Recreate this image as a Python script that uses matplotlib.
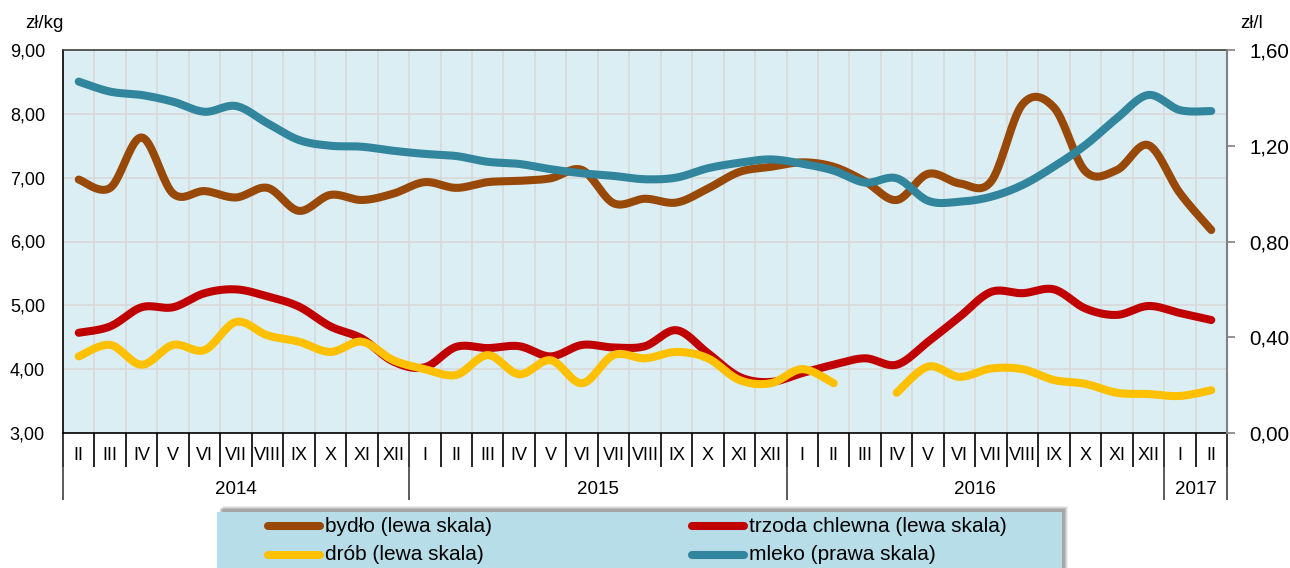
import numpy as np
import matplotlib.pyplot as plt
from matplotlib.patches import Rectangle
from matplotlib.lines import Line2D

plt.rcParams['font.family'] = ['Liberation Sans', 'DejaVu Sans']

# months II 2014 .. II 2017
months = ['II', 'III', 'IV', 'V', 'VI', 'VII', 'VIII', 'IX', 'X', 'XI', 'XII',
          'I', 'II', 'III', 'IV', 'V', 'VI', 'VII', 'VIII', 'IX', 'X', 'XI', 'XII',
          'I', 'II', 'III', 'IV', 'V', 'VI', 'VII', 'VIII', 'IX', 'X', 'XI', 'XII',
          'I', 'II']
years = ['2014', '2015', '2016', '2017']
year_bounds = [0, 11, 23, 35, 37]

bydlo = [6.97, 6.84, 7.63, 6.75, 6.79, 6.69, 6.84, 6.48, 6.73, 6.65, 6.75,
         6.93, 6.84, 6.93, 6.95, 6.99, 7.12, 6.60, 6.67, 6.61, 6.83, 7.09, 7.17,
         7.24, 7.17, 6.94, 6.65, 7.06, 6.91, 6.94, 8.15, 8.10, 7.10, 7.12, 7.51,
         6.76, 6.18]
trzoda = [4.57, 4.67, 4.97, 4.97, 5.19, 5.25, 5.14, 4.98, 4.67, 4.48, 4.12,
          4.03, 4.35, 4.33, 4.36, 4.20, 4.38, 4.34, 4.36, 4.61, 4.25, 3.88, 3.80,
          3.94, 4.07, 4.17, 4.07, 4.43, 4.82, 5.21, 5.19, 5.25, 4.95, 4.85, 4.99,
          4.88, 4.77]
drob = [4.20, 4.38, 4.07, 4.38, 4.30, 4.74, 4.53, 4.43, 4.27, 4.43, 4.14,
        4.00, 3.91, 4.22, 3.92, 4.14, 3.78, 4.22, 4.17, 4.27, 4.17, 3.83, 3.78,
        4.00, 3.78, np.nan, 3.63, 4.04, 3.88, 4.01, 4.00, 3.83, 3.77, 3.63, 3.61,
        3.58, 3.67]
mleko = [1.468, 1.426, 1.412, 1.384, 1.342, 1.366, 1.294, 1.224, 1.200, 1.196, 1.179,
         1.166, 1.157, 1.133, 1.124, 1.102, 1.085, 1.074, 1.060, 1.067, 1.106, 1.129, 1.143,
         1.125, 1.096, 1.046, 1.064, 0.970, 0.966, 0.987, 1.036, 1.113, 1.203, 1.315, 1.412,
         1.349, 1.345]

left_ticks = [3, 4, 5, 6, 7, 8, 9]
left_labels = ['3,00', '4,00', '5,00', '6,00', '7,00', '8,00', '9,00']
right_ticks = [0, 0.4, 0.8, 1.2, 1.6]
right_labels = ['0,00', '0,40', '0,80', '1,20', '1,60']

c_bydlo = '#984807'
c_trzoda = '#C00000'
c_drob = '#FFC000'
c_mleko = '#31859C'


def smooth(x, y, n=20):
    # bezier smoothing like a spreadsheet "smoothed line"
    x = np.asarray(x, float)
    y = np.asarray(y, float)
    xs, ys = [], []
    t = np.linspace(0, 1, n)
    for i in range(len(x) - 1):
        p0 = np.array([x[max(i - 1, 0)], y[max(i - 1, 0)]])
        p1 = np.array([x[i], y[i]])
        p2 = np.array([x[i + 1], y[i + 1]])
        p3 = np.array([x[min(i + 2, len(x) - 1)], y[min(i + 2, len(x) - 1)]])
        c1 = p1 + (p2 - p0) / 6
        c2 = p2 - (p3 - p1) / 6
        b = ((1 - t) ** 3)[:, None] * p1 + (3 * (1 - t) ** 2 * t)[:, None] * c1 \
            + (3 * (1 - t) * t ** 2)[:, None] * c2 + (t ** 3)[:, None] * p2
        xs.extend(b[:, 0])
        ys.extend(b[:, 1])
    return np.array(xs), np.array(ys)


def plot_smooth(ax, x, y, color, z):
    y = np.asarray(y, float)
    ok = np.isfinite(y)
    start = None
    for i in range(len(y) + 1):
        if i < len(y) and ok[i]:
            if start is None:
                start = i
        elif start is not None:
            sx, sy = smooth(x[start:i], y[start:i])
            ax.plot(sx, sy, color=color, lw=5.8, solid_capstyle='round', zorder=z)
            start = None


fig = plt.figure(figsize=(12.9, 5.68), dpi=100)
W, H = 1290, 568
ax = fig.add_axes([63 / W, 135 / H, 1164 / W, 383 / H])
ax.set_facecolor('#DAEEF3')

x = np.arange(len(months)) + 0.5
ax.set_xlim(0, len(months))
ax.set_ylim(3, 9)

# grid
ax.set_xticks(range(len(months) + 1))
ax.set_xticklabels([])
ax.tick_params(axis='x', length=0)
ax.set_yticks(left_ticks)
ax.set_yticklabels(left_labels, fontsize=13)
ax.tick_params(axis='y', length=0, pad=13)
ax.grid(True, color='#D9D9D9', lw=1.2)
ax.set_axisbelow(True)
for s in ['left', 'bottom']:
    ax.spines[s].set_color('black')
    ax.spines[s].set_linewidth(1.2)
ax.spines['top'].set_color('#404040')
ax.spines['top'].set_linewidth(1.2)
ax.spines['right'].set_visible(False)

plot_smooth(ax, x, bydlo, c_bydlo, 3)
plot_smooth(ax, x, trzoda, c_trzoda, 4)
plot_smooth(ax, x, drob, c_drob, 5)

ax2 = ax.twinx()
ax2.set_ylim(0, 1.6)
ax2.set_yticks(right_ticks)
ax2.set_yticklabels(right_labels, fontsize=14.8)
ax2.tick_params(axis='y', length=6, width=1.2, color='#808080', pad=10)
ax2.spines['right'].set_color('#808080')
ax2.spines['right'].set_linewidth(1.5)
for s in ['left', 'top', 'bottom']:
    ax2.spines[s].set_visible(False)
plot_smooth(ax2, x, mleko, c_mleko, 6)

# category axis: month ticks, labels, year separators
tr = ax.get_xaxis_transform()
ax.vlines(range(len(months) + 1), -0.089, 0, transform=tr, color='black', lw=1.2, clip_on=False)
ax.vlines(year_bounds, -0.175, 0, transform=tr, color='#404040', lw=1.2, clip_on=False)
for xi, m in zip(x, months):
    ax.text(xi, -0.058, m, transform=tr, ha='center', va='center', fontsize=13)
for i, yr in enumerate(years):
    xc = (year_bounds[i] + year_bounds[i + 1]) / 2
    ax.text(xc, -0.147, yr, transform=tr, ha='center', va='center', fontsize=13.5)

fig.text(44 / W, 1 - 24 / H, 'zł/kg', ha='center', va='center', fontsize=13.5)
fig.text(1252 / W, 1 - 24 / H, 'zł/l', ha='center', va='center', fontsize=13.5)

# legend box with shadow
for k, a in [(6, 0.10), (5, 0.15), (4, 0.2), (3, 0.25)]:
    fig.patches.append(Rectangle(((217 + k) / W, (-10 + k) / H), 845 / W, 66 / H,
                                 transform=fig.transFigure, facecolor='#606060',
                                 edgecolor='none', alpha=a, zorder=1))
fig.patches.append(Rectangle((217 / W, -10 / H), 845 / W, 66 / H, transform=fig.transFigure,
                             facecolor='#B7DDE8', edgecolor='none', zorder=2))
entries = [('bydło (lewa skala)', c_bydlo, 268, 526),
           ('drób (lewa skala)', c_drob, 268, 555),
           ('trzoda chlewna (lewa skala)', c_trzoda, 692, 526),
           ('mleko (prawa skala)', c_mleko, 692, 555)]
for label, col, x0, y0 in entries:
    fig.lines.append(Line2D([x0 / W, (x0 + 52) / W], [1 - y0 / H, 1 - y0 / H],
                            transform=fig.transFigure, color=col, lw=5.8,
                            solid_capstyle='round', zorder=3))
    fig.text((x0 + 57) / W, 1 - y0 / H, label, ha='left', va='center',
             fontsize=15, zorder=4)

fig.savefig('out.png', dpi=100)
